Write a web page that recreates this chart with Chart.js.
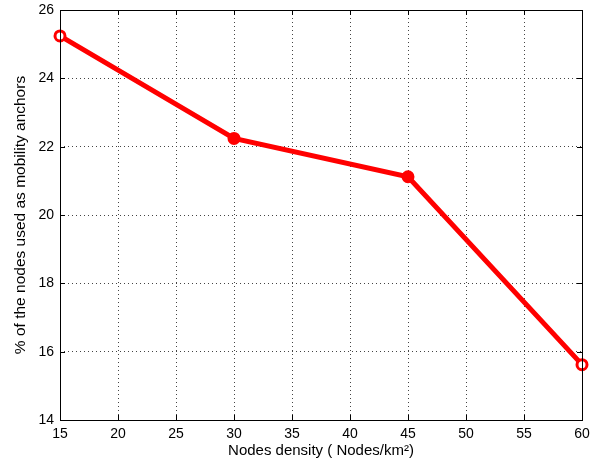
<!DOCTYPE html>
<html>
<head>
<meta charset="utf-8">
<script src="https://cdn.jsdelivr.net/npm/chart.js@4"></script>
<style>
  html, body { margin: 0; padding: 0; background: #fff; }
  #box { width: 594px; height: 474px; }
</style>
</head>
<body>
<div id="box"><canvas id="chart" width="594" height="474"></canvas></div>
<script>
// donnees
const densities = [15, 30, 45, 60];
const anchorPct = [25.24, 22.24, 21.12, 15.62];
const xTicks = [15, 20, 25, 30, 35, 40, 45, 50, 55, 60];
const yTicks = [14, 16, 18, 20, 22, 24, 26];

// cadre + petits traits de graduation vers l'interieur (style matlab)
const boxPlugin = {
  id: "box",
  afterDraw(chart) {
    const { ctx, chartArea: a, scales } = chart;
    ctx.save();
    ctx.strokeStyle = "#000";
    ctx.lineWidth = 1;
    ctx.strokeRect(a.left + 0.5, a.top + 0.5, a.right - a.left, a.bottom - a.top);
    ctx.beginPath();
    xTicks.forEach(v => {
      const x = Math.round(scales.x.getPixelForValue(v)) + 0.5;
      ctx.moveTo(x, a.bottom); ctx.lineTo(x, a.bottom - 5);
      ctx.moveTo(x, a.top); ctx.lineTo(x, a.top + 5);
    });
    yTicks.forEach(v => {
      const y = Math.round(scales.y.getPixelForValue(v)) + 0.5;
      ctx.moveTo(a.left, y); ctx.lineTo(a.left + 5, y);
      ctx.moveTo(a.right, y); ctx.lineTo(a.right - 5, y);
    });
    ctx.stroke();
    ctx.restore();
  }
};

const family = "Arial, 'Liberation Sans', sans-serif";

// on fixe la taille des axes pour caler la zone de tracé comme sur l'original
function fixPad(s) {
  s.paddingTop = 0; s.paddingBottom = 0;
  s.paddingLeft = 0; s.paddingRight = 0;
}

new Chart(document.getElementById("chart"), {
  type: "line",
  data: {
    datasets: [{
      data: densities.map((d, i) => ({ x: d, y: anchorPct[i] })),
      borderColor: "#ff0000",
      borderWidth: 5,
      pointRadius: 5,
      pointBorderWidth: 3,
      pointBorderColor: "#ff0000",
      pointBackgroundColor: ["#fff", "#ff0000", "#ff0000", "#fff"],
      tension: 0,
      clip: false
    }]
  },
  options: {
    responsive: false,
    animation: false,
    layout: { padding: { left: 4, top: 10, right: 12, bottom: 0 } },
    plugins: { legend: { display: false }, tooltip: { enabled: false } },
    scales: {
      x: {
        type: "linear",
        min: 15, max: 60,
        afterFit(s) { s.height = 54; fixPad(s); },
        afterBuildTicks(s) { s.ticks = xTicks.map(v => ({ value: v })); },
        ticks: { color: "#000", font: { family, size: 14 }, padding: 6, maxRotation: 0 },
        grid: { color: "#444", drawTicks: false, tickLength: 0 },
        border: { display: false, dash: [1, 3] },
        title: {
          display: true,
          text: "Nodes density ( Nodes/km\u00B2)",
          color: "#000",
          font: { family, size: 15 },
          padding: { top: 0, bottom: 14 }
        }
      },
      y: {
        min: 14, max: 26,
        afterFit(s) { s.width = 56; fixPad(s); },
        afterBuildTicks(s) { s.ticks = yTicks.map(v => ({ value: v })); },
        ticks: { color: "#000", font: { family, size: 14 }, padding: 6 },
        grid: { color: "#444", drawTicks: false, tickLength: 0 },
        border: { display: false, dash: [1, 3] },
        title: {
          display: true,
          text: "% of the nodes used as mobility anchors",
          color: "#000",
          font: { family, size: 15.5 },
          padding: { top: 7, bottom: 0 }
        }
      }
    }
  },
  plugins: [boxPlugin]
});
</script>
</body>
</html>
